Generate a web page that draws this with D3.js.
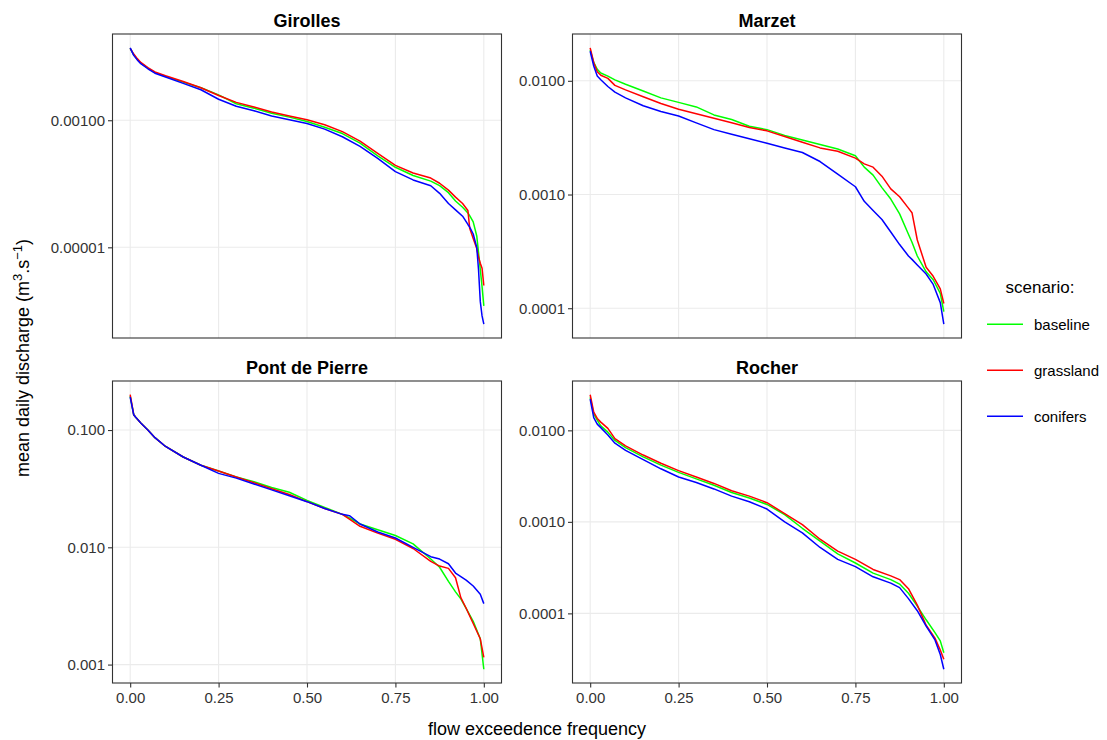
<!DOCTYPE html>
<html>
<head>
<meta charset="utf-8">
<script src="https://cdn.jsdelivr.net/npm/d3@7"></script>
<style>
  html, body { margin: 0; padding: 0; background: #ffffff; }
  svg { display: block; font-family: "Liberation Sans", Arial, sans-serif; }
</style>
</head>
<body>
<svg id="chart" width="1107" height="740"></svg>
<script>
// ---------------- data ----------------
const scenarios = ["baseline", "grassland", "conifers"];
const scenarioColors = ["#00FF00", "#FF0000", "#0000FF"];
const stations = ["Girolles", "Marzet", "Pont de Pierre", "Rocher"];

const xTicks = [0, 0.25, 0.5, 0.75, 1];
const xTickLabels = ["0.00", "0.25", "0.50", "0.75", "1.00"];

// Girolles
const girollesFreq = [0, 0.01, 0.02, 0.03, 0.05, 0.07, 0.10, 0.15, 0.20, 0.25, 0.30, 0.35, 0.40, 0.45, 0.50, 0.55, 0.60, 0.65, 0.70, 0.75, 0.80, 0.85, 0.875, 0.90, 0.92, 0.94, 0.955, 0.96, 0.97, 0.98, 0.985, 0.99, 0.995, 1.0];
const girollesBaseline = [1.35e-2, 1.07e-2, 9.12e-3, 7.94e-3, 6.61e-3, 5.62e-3, 4.90e-3, 3.98e-3, 3.24e-3, 2.51e-3, 1.82e-3, 1.55e-3, 1.29e-3, 1.12e-3, 9.55e-4, 7.76e-4, 6.17e-4, 4.37e-4, 2.75e-4, 1.82e-4, 1.35e-4, 1.10e-4, 9.33e-5, 7.24e-5, 5.37e-5, 4.27e-5, 3.47e-5, 3.16e-5, 2.51e-5, 1.51e-5, 8.32e-6, 4.47e-6, 2.40e-6, 1.20e-6];
const girollesGrassland = [1.35e-2, 1.10e-2, 9.33e-3, 8.13e-3, 6.76e-3, 5.75e-3, 5.01e-3, 4.07e-3, 3.24e-3, 2.45e-3, 1.91e-3, 1.62e-3, 1.35e-3, 1.17e-3, 1.02e-3, 8.51e-4, 6.61e-4, 4.68e-4, 3.02e-4, 1.95e-4, 1.48e-4, 1.23e-4, 1.02e-4, 7.94e-5, 6.17e-5, 4.90e-5, 3.80e-5, 2.00e-5, 1.38e-5, 9.55e-6, 7.08e-6, 5.62e-6, 4.68e-6, 2.51e-6];
const girollesConifers = [1.38e-2, 1.05e-2, 8.91e-3, 7.76e-3, 6.46e-3, 5.50e-3, 4.79e-3, 3.80e-3, 3.02e-3, 2.14e-3, 1.66e-3, 1.41e-3, 1.17e-3, 1.02e-3, 8.91e-4, 7.24e-4, 5.50e-4, 3.89e-4, 2.51e-4, 1.55e-4, 1.15e-4, 9.33e-5, 7.08e-5, 4.90e-5, 3.89e-5, 3.09e-5, 2.29e-5, 2.09e-5, 1.62e-5, 1.00e-5, 4.47e-6, 1.41e-6, 8.32e-7, 6.17e-7];
const girollesYTicks = [1e-5, 1e-3];
const girollesYLabels = ["0.00001", "0.00100"];

// Marzet
const marzetFreq = [0, 0.01, 0.02, 0.03, 0.05, 0.07, 0.10, 0.15, 0.20, 0.25, 0.30, 0.35, 0.40, 0.45, 0.50, 0.55, 0.60, 0.65, 0.70, 0.75, 0.775, 0.80, 0.825, 0.85, 0.875, 0.90, 0.91, 0.925, 0.95, 0.97, 0.99, 1.0];
const marzetBaseline = [1.86e-2, 1.45e-2, 1.26e-2, 1.17e-2, 1.10e-2, 1.02e-2, 9.33e-3, 8.13e-3, 7.08e-3, 6.46e-3, 5.89e-3, 5.01e-3, 4.57e-3, 3.98e-3, 3.72e-3, 3.31e-3, 3.02e-3, 2.75e-3, 2.51e-3, 2.19e-3, 1.74e-3, 1.48e-3, 1.15e-3, 9.12e-4, 6.76e-4, 4.47e-4, 3.80e-4, 2.88e-4, 2.09e-4, 1.78e-4, 1.35e-4, 9.33e-5];
const marzetGrassland = [1.95e-2, 1.45e-2, 1.20e-2, 1.12e-2, 1.05e-2, 9.12e-3, 8.32e-3, 7.24e-3, 6.31e-3, 5.62e-3, 5.13e-3, 4.68e-3, 4.27e-3, 3.89e-3, 3.63e-3, 3.24e-3, 2.88e-3, 2.57e-3, 2.40e-3, 2.09e-3, 1.86e-3, 1.74e-3, 1.45e-3, 1.12e-3, 9.55e-4, 7.59e-4, 6.92e-4, 3.98e-4, 2.29e-4, 1.91e-4, 1.48e-4, 1.10e-4];
const marzetConifers = [1.82e-2, 1.35e-2, 1.10e-2, 1.02e-2, 8.91e-3, 7.94e-3, 7.08e-3, 6.03e-3, 5.37e-3, 4.90e-3, 4.27e-3, 3.72e-3, 3.39e-3, 3.09e-3, 2.82e-3, 2.57e-3, 2.34e-3, 1.95e-3, 1.51e-3, 1.17e-3, 8.71e-4, 7.24e-4, 6.03e-4, 4.68e-4, 3.63e-4, 2.88e-4, 2.69e-4, 2.40e-4, 2.00e-4, 1.62e-4, 1.12e-4, 7.24e-5];
const marzetYTicks = [1e-4, 1e-3, 1e-2];
const marzetYLabels = ["0.0001", "0.0010", "0.0100"];

// Pont de Pierre
const pontFreq = [0, 0.01, 0.015, 0.03, 0.05, 0.07, 0.10, 0.15, 0.20, 0.25, 0.30, 0.35, 0.40, 0.45, 0.50, 0.55, 0.60, 0.62, 0.65, 0.70, 0.75, 0.80, 0.85, 0.875, 0.90, 0.92, 0.935, 0.95, 0.97, 0.99, 1.0];
const pontBaseline = [1.95e-1, 1.35e-1, 1.29e-1, 1.15e-1, 1.00e-1, 8.61e-2, 7.24e-2, 5.89e-2, 5.01e-2, 4.47e-2, 3.98e-2, 3.63e-2, 3.24e-2, 2.95e-2, 2.51e-2, 2.19e-2, 1.91e-2, 1.78e-2, 1.58e-2, 1.41e-2, 1.26e-2, 1.07e-2, 7.94e-3, 6.76e-3, 5.13e-3, 4.17e-3, 3.63e-3, 3.02e-3, 2.34e-3, 1.66e-3, 9.12e-4];
const pontGrassland = [2.00e-1, 1.35e-1, 1.29e-1, 1.15e-1, 1.00e-1, 8.61e-2, 7.24e-2, 5.89e-2, 5.01e-2, 4.47e-2, 3.98e-2, 3.55e-2, 3.16e-2, 2.82e-2, 2.45e-2, 2.14e-2, 1.91e-2, 1.74e-2, 1.51e-2, 1.32e-2, 1.17e-2, 9.77e-3, 7.59e-3, 6.92e-3, 6.61e-3, 5.50e-3, 3.72e-3, 3.02e-3, 2.24e-3, 1.66e-3, 1.15e-3];
const pontConifers = [1.91e-1, 1.35e-1, 1.29e-1, 1.15e-1, 1.00e-1, 8.61e-2, 7.24e-2, 5.89e-2, 5.01e-2, 4.27e-2, 3.89e-2, 3.47e-2, 3.09e-2, 2.75e-2, 2.45e-2, 2.14e-2, 1.91e-2, 1.86e-2, 1.58e-2, 1.35e-2, 1.20e-2, 1.00e-2, 8.32e-3, 7.94e-3, 7.24e-3, 6.03e-3, 5.62e-3, 5.25e-3, 4.68e-3, 3.98e-3, 3.31e-3];
const pontYTicks = [1e-3, 1e-2, 1e-1];
const pontYLabels = ["0.001", "0.010", "0.100"];

// Rocher
const rocherFreq = [0, 0.01, 0.02, 0.03, 0.05, 0.07, 0.10, 0.15, 0.20, 0.25, 0.30, 0.35, 0.40, 0.45, 0.50, 0.55, 0.60, 0.65, 0.70, 0.75, 0.80, 0.85, 0.875, 0.90, 0.925, 0.95, 0.975, 0.99, 1.0];
const rocherBaseline = [2.29e-2, 1.51e-2, 1.29e-2, 1.12e-2, 9.55e-3, 7.76e-3, 6.46e-3, 5.13e-3, 4.17e-3, 3.47e-3, 2.95e-3, 2.51e-3, 2.09e-3, 1.82e-3, 1.55e-3, 1.20e-3, 8.51e-4, 6.17e-4, 4.47e-4, 3.55e-4, 2.75e-4, 2.34e-4, 2.09e-4, 1.66e-4, 1.20e-4, 8.51e-5, 6.17e-5, 5.01e-5, 3.72e-5];
const rocherGrassland = [2.45e-2, 1.58e-2, 1.35e-2, 1.23e-2, 1.05e-2, 8.13e-3, 6.76e-3, 5.37e-3, 4.37e-3, 3.63e-3, 3.09e-3, 2.63e-3, 2.19e-3, 1.91e-3, 1.62e-3, 1.23e-3, 9.33e-4, 6.46e-4, 4.79e-4, 3.89e-4, 3.02e-4, 2.57e-4, 2.34e-4, 1.86e-4, 1.23e-4, 7.41e-5, 5.37e-5, 3.98e-5, 3.16e-5];
const rocherConifers = [2.19e-2, 1.38e-2, 1.17e-2, 1.07e-2, 8.91e-3, 7.24e-3, 6.03e-3, 4.79e-3, 3.80e-3, 3.09e-3, 2.69e-3, 2.29e-3, 1.91e-3, 1.66e-3, 1.38e-3, 1.00e-3, 7.59e-4, 5.25e-4, 3.89e-4, 3.24e-4, 2.51e-4, 2.14e-4, 1.91e-4, 1.45e-4, 1.07e-4, 7.24e-5, 5.13e-5, 3.55e-5, 2.45e-5];
const rocherYTicks = [1e-4, 1e-3, 1e-2];
const rocherYLabels = ["0.0001", "0.0010", "0.0100"];

// --------------- assemble ---------------
const panels = [
  { name: stations[0], freq: girollesFreq, series: [girollesBaseline, girollesGrassland, girollesConifers], yTicks: girollesYTicks, yLabels: girollesYLabels, col: 0, row: 0 },
  { name: stations[1], freq: marzetFreq, series: [marzetBaseline, marzetGrassland, marzetConifers], yTicks: marzetYTicks, yLabels: marzetYLabels, col: 1, row: 0 },
  { name: stations[2], freq: pontFreq, series: [pontBaseline, pontGrassland, pontConifers], yTicks: pontYTicks, yLabels: pontYLabels, col: 0, row: 1 },
  { name: stations[3], freq: rocherFreq, series: [rocherBaseline, rocherGrassland, rocherConifers], yTicks: rocherYTicks, yLabels: rocherYLabels, col: 1, row: 1 }
];

// --------------- layout ---------------
const colX = [112.5, 572.5];
const panelW = 389;
const rowY = [34, 381];
const rowH = [304, 302];
const tickLen = 4.5;
const textColor = "#333333";

const svg = d3.select("#chart");

panels.forEach(p => {
  const x0 = colX[p.col], y0 = rowY[p.row], h = rowH[p.row];
  const g = svg.append("g").attr("transform", `translate(${x0},${y0})`);

  const x = d3.scaleLinear().domain([-0.05, 1.05]).range([0, panelW]);
  const all = p.series.flat();
  const lmin = Math.log10(d3.min(all)), lmax = Math.log10(d3.max(all));
  const pad = (lmax - lmin) * 0.05;
  const y = d3.scaleLog().domain([Math.pow(10, lmin - pad), Math.pow(10, lmax + pad)]).range([h, 0]);

  // grid
  g.append("g").selectAll("line").data(xTicks).join("line")
    .attr("x1", d => x(d)).attr("x2", d => x(d)).attr("y1", 0).attr("y2", h)
    .attr("stroke", "#EBEBEB").attr("stroke-width", 1.1);
  g.append("g").selectAll("line").data(p.yTicks).join("line")
    .attr("x1", 0).attr("x2", panelW).attr("y1", d => y(d)).attr("y2", d => y(d))
    .attr("stroke", "#EBEBEB").attr("stroke-width", 1.1);

  // lines
  const line = d3.line().x(d => x(d[0])).y(d => y(d[1]));
  p.series.forEach((s, i) => {
    g.append("path")
      .datum(p.freq.map((f, j) => [f, s[j]]))
      .attr("d", line)
      .attr("fill", "none")
      .attr("stroke", scenarioColors[i])
      .attr("stroke-width", 1.5)
      .attr("stroke-linejoin", "round");
  });

  // panel border
  g.append("rect").attr("x", 0).attr("y", 0).attr("width", panelW).attr("height", h)
    .attr("fill", "none").attr("stroke", "#333333").attr("stroke-width", 1.1);

  // y axis
  const yAxis = d3.axisLeft(y).tickValues(p.yTicks).tickFormat((d, i) => p.yLabels[i])
    .tickSize(tickLen).tickPadding(3);
  const ya = g.append("g").call(yAxis);
  ya.select(".domain").remove();
  ya.selectAll(".tick line").attr("stroke", "#333333").attr("stroke-width", 1.1);
  ya.selectAll(".tick text").attr("fill", textColor).style("font-size", "15px")
    .style("font-family", "'Liberation Sans', Arial, sans-serif");

  // x axis (bottom row only)
  if (p.row === 1) {
    const xAxis = d3.axisBottom(x).tickValues(xTicks).tickFormat((d, i) => xTickLabels[i])
      .tickSize(tickLen).tickPadding(5);
    const xa = g.append("g").attr("transform", `translate(0,${h})`).call(xAxis);
    xa.select(".domain").remove();
    xa.selectAll(".tick line").attr("stroke", "#333333").attr("stroke-width", 1.1);
    xa.selectAll(".tick text").attr("fill", textColor).style("font-size", "15px")
      .style("font-family", "'Liberation Sans', Arial, sans-serif");
  }

  // panel title
  svg.append("text")
    .attr("x", x0 + panelW / 2).attr("y", y0 - 7.5)
    .attr("text-anchor", "middle")
    .style("font-size", "18px").style("font-weight", "bold").attr("fill", "#000")
    .text(p.name);
});

// axis titles
svg.append("text")
  .attr("x", (colX[0] + colX[1] + panelW) / 2).attr("y", 735)
  .attr("text-anchor", "middle").style("font-size", "18px").attr("fill", "#000")
  .text("flow exceedence frequency");

const yt = svg.append("text")
  .attr("transform", "translate(29,358) rotate(-90)")
  .attr("text-anchor", "middle").style("font-size", "18px").attr("fill", "#000");
yt.append("tspan").text("mean daily discharge (m");
yt.append("tspan").attr("baseline-shift", "super").style("font-size", "13px").text("3");
yt.append("tspan").text(".s");
yt.append("tspan").attr("baseline-shift", "super").style("font-size", "13px").text("\u22121");
yt.append("tspan").text(")");

// legend
const legend = svg.append("g");
legend.append("text").attr("x", 1040).attr("y", 292.5).attr("text-anchor", "middle")
  .style("font-size", "17px").attr("fill", "#000").text("scenario:");
const legendY = [324.3, 370.3, 416.3];
scenarios.forEach((s, i) => {
  legend.append("line").attr("x1", 987).attr("x2", 1023).attr("y1", legendY[i]).attr("y2", legendY[i])
    .attr("stroke", scenarioColors[i]).attr("stroke-width", 1.5);
  legend.append("text").attr("x", 1034).attr("y", legendY[i] + 5.3)
    .style("font-size", "15px").attr("fill", "#000").text(s);
});
</script>
</body>
</html>
